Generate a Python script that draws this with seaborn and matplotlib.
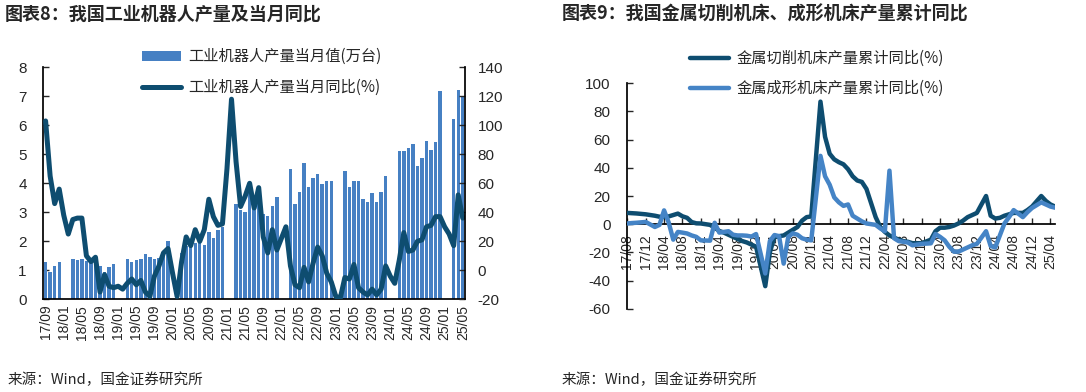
import numpy as np
import pandas as pd
import seaborn as sns
import matplotlib.pyplot as plt

# ---------------- data: chart 8 (17/09 - 25/05) ----------------
nan = np.nan
robot_months = pd.period_range("2017-09", "2025-05", freq="M").strftime("%y/%m").tolist()
# monthly output, 10k units (Jan/Feb not published)
robot_output = [1.30, 0.95, 1.15, 1.30, nan, nan, 1.40, 1.36, 1.40, 1.32, 1.28, 1.22,
                1.15, 0.95, 1.12, 1.20, nan, nan, 1.40, 1.30, 1.35, 1.40, 1.55, 1.45,
                1.40, 1.44, 1.58, 2.02, nan, nan, 1.60, 1.85, 1.82, 1.95, 2.04, 1.87,
                2.31, 2.13, 2.38, 2.50, nan, nan, 3.30, 3.09, 3.00, 3.65, 3.45, 3.30,
                2.93, 2.88, 3.22, 3.52, nan, nan, 4.48, 3.30, 3.70, 4.70, 3.87, 4.18,
                4.33, 3.97, 4.07, 4.07, nan, nan, 4.42, 3.87, 4.07, 4.07, 3.45, 3.35,
                3.66, 3.35, 3.70, 4.24, nan, nan, 5.10, 5.10, 5.21, 5.35, 4.60, 4.86,
                5.47, 5.16, 5.41, 7.17, nan, nan, 6.22, 7.22, 6.97]
# monthly yoy, %
robot_yoy = [103, 65, 46, 56, 38, 25, 35, 36, 36, 10, 6, 9,
             -15, -3, -11, -12, -11, -13, -9, -6, -10, -7, -15, -18,
             -4, 3, 12, 15, -2, -18, 6, 23, 17, 28, 20, 28,
             49, 37, 31, 32, 70, 118, 75, 44, 51, 60, 43, 57,
             23, 12, 28, 14, 22, 30, 3, -10, -12, 2, -8, 5,
             16, 10, -2, -8, -18, -19, -5, -6, 4, -12, -15, -17,
             -13, -17, -13, 3, -4, -9, 7, 26, 13, 14, 20, 21,
             30, 31, 37, 37, 30, 25, 17, 52, 36]

# ---------------- data: chart 9 (17/08 - 25/05) ----------------
tool_months = pd.period_range("2017-08", "2025-05", freq="M").strftime("%y/%m").tolist()
cutting_yoy = [8.0, 7.8, 7.6, 7.3, 7.0, nan, 6.0, 5.3, 5.2, 5.5, 6.5, 7.5,
               5.6, 4.5, 1.5, 0.6, 0.5, nan, -0.5, -2.5, -4.8, -6.0, -7.5, -9.0,
               -10.5, -12.0, -13.0, -14.5, -16.0, nan, -44.0, -20.0, -9.0, -8.5, -8.0, -6.0,
               -4.0, -2.0, 2.5, 5.0, 5.5, nan, 87.0, 62.0, 50.0, 46.0, 44.0, 42.5,
               39.0, 34.0, 31.0, 30.0, 25.0, nan, 5.0, -2.0, -5.5, -8.0, -9.5, -11.0,
               -12.0, -12.5, -13.5, -13.5, -13.5, nan, -11.0, -5.0, -2.5, -2.5, -2.0, -1.0,
               0.5, 2.5, 5.0, 6.5, 8.0, nan, 20.0, 6.0, 4.0, 4.5, 6.0, 7.0,
               8.0, 8.0, 8.0, 10.0, 12.5, nan, 20.0, 16.5, 14.0, 12.5]
forming_yoy = [0.5, 0.8, 1.0, 1.3, 1.6, nan, -2.0, -0.5, 9.8, 1.2, -11.0, -5.5,
               -6.0, -6.6, -8.0, -9.0, -11.5, nan, -11.7, 1.0, -6.0, -5.5, -5.0, -7.5,
               -8.0, -8.0, -8.2, -8.8, -7.0, nan, -35.0, -12.0, -7.7, -8.5, -28.0, -9.0,
               -6.5, -7.5, -10.0, -11.0, -11.5, nan, 48.5, 34.0, 28.0, 19.0, 15.5, 13.0,
               14.0, 6.0, 4.0, 2.0, 0.5, nan, -0.5, -3.0, -5.0, 38.0, -10.0, -12.0,
               -12.5, -13.0, -15.0, -14.5, -14.0, nan, -13.6, -7.0, -9.0, -11.5, -16.0, -19.5,
               -19.5, -18.0, -16.5, -15.0, -14.0, nan, -5.0, -15.5, -16.5, -8.0, 0.5, 5.0,
               10.0, 7.5, 5.0, 8.5, 11.5, nan, 15.5, 14.0, 12.5, 11.7]

NAVY = "#0E4D70"
BAR = "#4680C3"
LIGHT = "#4584C6"
CJK = ["Noto Sans CJK SC", "DejaVu Sans"]

sns.set_theme(style="white")
plt.rcParams["font.family"] = ["Liberation Sans", "Noto Sans CJK SC", "DejaVu Sans"]
plt.rcParams["axes.unicode_minus"] = False

fig = plt.figure(figsize=(10.86, 3.92), dpi=100)

# ---------------- chart 8 ----------------
ax1 = fig.add_axes([0.0399, 0.2365, 0.3883, 0.5918])
df_robot = pd.DataFrame({"month": robot_months, "output": robot_output,
                         "yoy": robot_yoy, "idx": np.arange(len(robot_months))})
sns.barplot(data=df_robot.dropna(subset=["output"]), x="month", y="output",
            order=robot_months, color=BAR, saturation=1, width=0.75,
            errorbar=None, linewidth=0, ax=ax1, label="工业机器人产量当月值(万台)")
if ax1.get_legend() is not None:
    ax1.get_legend().remove()
ax1.set_ylim(0, 8)
ax1.set_yticks(range(0, 9))
ax1.set_xlim(-0.5, len(robot_months) - 0.5)

ax1t = ax1.twinx()
sns.lineplot(data=df_robot, x="idx", y="yoy", ax=ax1t, color=NAVY, linewidth=3.6,
             solid_joinstyle="round", solid_capstyle="round",
             label="工业机器人产量当月同比(%)", legend=False)
ax1t.set_ylim(-20, 140)
ax1t.set_yticks(range(-20, 141, 20))
ax1t.set_xlim(-0.5, len(robot_months) - 0.5)

ax1.set_xticks(range(0, len(robot_months), 4))
ax1.set_xticklabels(robot_months[::4], rotation=90, fontsize=10)
ax1.set_xticks(np.arange(-0.5, len(robot_months), 4), minor=True)
ax1.tick_params(axis="x", which="major", length=0, pad=4)
ax1.tick_params(axis="x", which="minor", direction="in", length=4, width=1, color="black")
ax1.tick_params(axis="y", direction="in", length=4, width=1, labelsize=11, pad=12, left=True)
ax1t.tick_params(axis="y", direction="in", length=4, width=1, labelsize=11, pad=9, right=True)
ax1.set_xlabel("")
ax1.set_ylabel("")
ax1t.set_xlabel("")
ax1t.set_ylabel("")
for sp in ["top", "right"]:
    ax1.spines[sp].set_visible(False)
for sp in ["top", "left", "bottom"]:
    ax1t.spines[sp].set_visible(False)
for sp in ax1.spines.values():
    sp.set_color("black")
ax1t.spines["right"].set_color("black")

h1, l1 = ax1.get_legend_handles_labels()
h2, l2 = ax1t.get_legend_handles_labels()
ax1t.legend(h1 + h2, l1 + l2, loc="upper left", bbox_to_anchor=(0.215, 1.115),
            frameon=False, prop={"family": CJK, "size": 11},
            handlelength=2.6, handletextpad=0.45, labelspacing=0.9, borderpad=0)

# ---------------- chart 9 ----------------
ax2 = fig.add_axes([0.5776, 0.2125, 0.3939, 0.5750])
df_tool = pd.DataFrame({"idx": np.arange(len(tool_months)),
                        "cutting": cutting_yoy, "forming": forming_yoy})
sns.lineplot(data=df_tool.dropna(subset=["cutting"]), x="idx", y="cutting", ax=ax2,
             color=NAVY, linewidth=3.2, solid_joinstyle="round", solid_capstyle="round",
             label="金属切削机床产量累计同比(%)", zorder=3)
sns.lineplot(data=df_tool.dropna(subset=["forming"]), x="idx", y="forming", ax=ax2,
             color=LIGHT, linewidth=3.2, solid_joinstyle="round", solid_capstyle="round",
             label="金属成形机床产量累计同比(%)", zorder=3)
ax2.spines["bottom"].set_position(("data", 0))
ax2.spines["top"].set_visible(False)
ax2.spines["right"].set_visible(False)
for sp in ["left", "bottom"]:
    ax2.spines[sp].set_color("black")
ax2.set_axisbelow(True)
ax2.set_ylim(-60, 100)
ax2.set_yticks(range(-60, 101, 20))
ax2.set_xlim(0, len(tool_months) - 1)
ax2.set_xticks(range(0, len(tool_months), 4))
ax2.set_xticklabels(tool_months[::4], fontsize=10)
ax2.tick_params(axis="x", direction="in", length=4, width=1, pad=7, bottom=True,
                labelrotation=90, labelsize=10)
ax2.tick_params(axis="y", direction="in", length=4, width=1, labelsize=11, pad=12, left=True)
ax2.set_xlabel("")
ax2.set_ylabel("")
ax2.legend(loc="upper left", bbox_to_anchor=(0.128, 1.182), frameon=False,
           prop={"family": CJK, "size": 11},
           handlelength=2.6, handletextpad=0.45, labelspacing=0.85, borderpad=0)

# ---------------- titles and sources ----------------
fig.text(5 / 1086, 1 - 14 / 392, "图表8：我国工业机器人产量及当月同比", fontsize=13,
         fontweight="bold", va="center", ha="left", family=CJK)
fig.text(562 / 1086, 1 - 14 / 392, "图表9：我国金属切削机床、成形机床产量累计同比", fontsize=13,
         fontweight="bold", va="center", ha="left", family=CJK)
fig.text(8 / 1086, 1 - 380 / 392, "来源：Wind，国金证券研究所", fontsize=10.5,
         va="center", ha="left", family=CJK)
fig.text(562 / 1086, 1 - 380 / 392, "来源：Wind，国金证券研究所", fontsize=10.5,
         va="center", ha="left", family=CJK)

fig.savefig("out.png", dpi=100)
